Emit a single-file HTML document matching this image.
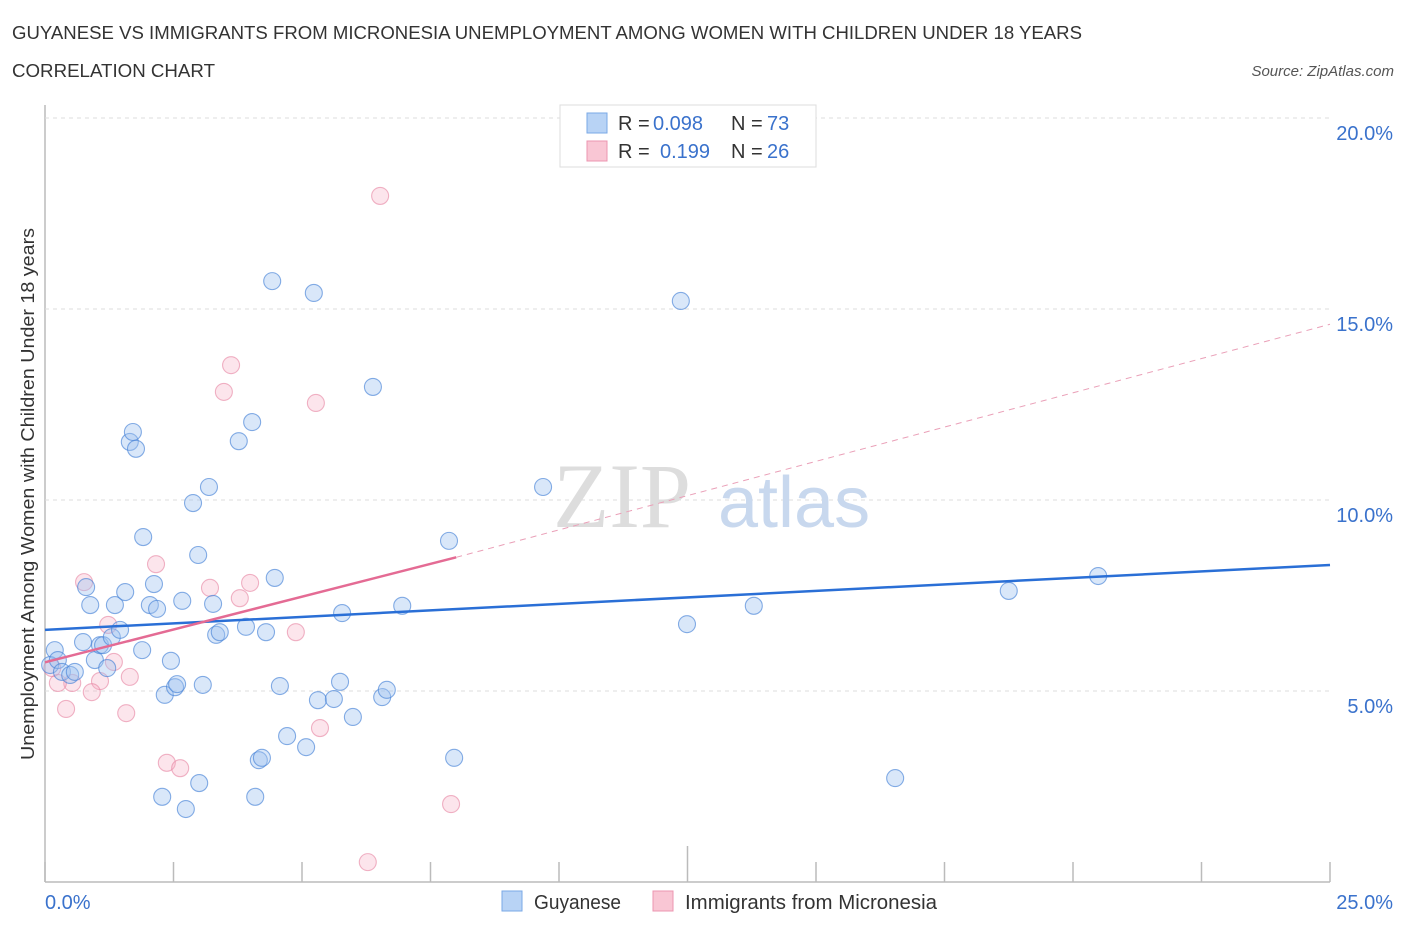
<!DOCTYPE html>
<html><head><meta charset="utf-8"><style>
body{margin:0;background:#fff;width:1406px;height:930px;overflow:hidden;font-family:"Liberation Sans",sans-serif}
</style></head><body>
<svg id="chart" width="1406" height="930" xmlns="http://www.w3.org/2000/svg" font-family="Liberation Sans, sans-serif">
<text x="12" y="39" font-size="18" fill="#333" textLength="1070" lengthAdjust="spacingAndGlyphs">GUYANESE VS IMMIGRANTS FROM MICRONESIA UNEMPLOYMENT AMONG WOMEN WITH CHILDREN UNDER 18 YEARS</text>
<text x="12" y="77" font-size="18" fill="#333" textLength="203" lengthAdjust="spacingAndGlyphs">CORRELATION CHART</text>
<text x="1394" y="76" font-size="15" fill="#555" font-style="italic" text-anchor="end">Source: ZipAtlas.com</text>
<text transform="translate(34,494) rotate(-90)" font-size="18" fill="#333" text-anchor="middle" textLength="532" lengthAdjust="spacingAndGlyphs">Unemployment Among Women with Children Under 18 years</text>
<g id="grid"></g>
<text x="553" y="527" font-size="92" fill="#ddd" font-family="Liberation Serif, serif">ZIP</text>
<text x="718" y="527" font-size="72" fill="#c8d8ee">atlas</text>
<g id="marks"></g>
<g id="lines"></g>
<g>
<rect x="560" y="105" width="256" height="62" fill="#fff" stroke="#ddd"/>
<rect x="587" y="113" width="20" height="20" fill="#b8d3f5" stroke="#7aa8e6"/>
<rect x="587" y="141" width="20" height="20" fill="#f9c6d4" stroke="#ec95b0"/>
<text y="130" font-size="20" fill="#333"><tspan x="618">R =</tspan><tspan x="653" fill="#3a72cc">0.098</tspan><tspan x="731">N =</tspan><tspan x="767" fill="#3a72cc">73</tspan></text>
<text y="158" font-size="20" fill="#333"><tspan x="618">R =</tspan><tspan x="660" fill="#3a72cc">0.199</tspan><tspan x="731">N =</tspan><tspan x="767" fill="#3a72cc">26</tspan></text>
</g>
<g>
<rect x="502" y="891" width="20" height="20" fill="#b8d3f5" stroke="#7aa8e6"/>
<text x="534" y="909" font-size="20" fill="#333" textLength="87" lengthAdjust="spacingAndGlyphs">Guyanese</text>
<rect x="653" y="891" width="20" height="20" fill="#f9c6d4" stroke="#ec95b0"/>
<text x="685" y="909" font-size="20" fill="#333" textLength="252" lengthAdjust="spacingAndGlyphs">Immigrants from Micronesia</text>
</g>
</svg>
<script>
const xTicks=[0,2.5,5,7.5,10,12.5,15,17.5,20,22.5,25];
const yTicks=[5,10,15,20];
const yTickLabels=["5.0%","10.0%","15.0%","20.0%"];
const xTickLabels=["0.0%","25.0%"];
const guyX=[.19,.10,.25,.33,.49,.58,.74,.80,.88,.97,1.07,1.13,1.21,1.30,1.36,1.46,1.56,1.65,1.71,1.77,1.91,1.89,2.04,2.12,2.18,2.33,2.28,2.45,2.53,2.57,2.67,2.74,2.88,2.98,3.00,3.07,3.19,3.27,3.33,3.40,3.77,3.91,4.03,4.09,4.16,4.22,4.30,4.42,4.47,4.57,4.71,5.08,5.23,5.31,5.62,5.74,5.78,5.99,6.38,6.56,6.65,6.95,7.86,7.96,9.69,12.37,12.49,13.79,16.54,18.75,20.49];
const guyY=[6.07,5.68,5.81,5.50,5.42,5.50,6.28,7.72,7.25,5.81,6.20,6.20,5.60,6.41,7.25,6.60,7.59,11.52,11.78,11.34,9.03,6.07,7.25,7.80,7.15,4.90,2.23,5.79,5.10,5.18,7.36,1.91,9.92,8.56,2.59,5.16,10.34,7.28,6.47,6.54,11.54,6.68,12.04,2.23,3.19,3.25,6.54,15.73,7.96,5.13,3.82,3.53,15.42,4.76,4.79,5.24,7.04,4.32,12.96,4.84,5.03,7.23,8.93,3.25,10.34,15.21,6.75,7.23,2.72,7.62,8.01];
const micX=[6.52,3.62,3.48,5.27,.76,2.16,3.21,3.99,3.79,4.88,1.23,1.34,1.65,1.07,.53,.25,.91,.41,1.58,5.35,2.37,2.63,7.90,6.28,.14];
const micY=[17.96,13.53,12.83,12.54,7.85,8.32,7.70,7.83,7.43,6.54,6.73,5.76,5.37,5.26,5.21,5.21,4.97,4.53,4.42,4.03,3.12,2.98,2.04,0.52,5.60];
const guyTrend=[6.6,8.3];
const micTrend=[5.75,8.5,14.6];
const micTrendX=[0,8,25];
const X=v=>45+v*51.4, Y=v=>882-v*38.2;
const NS="http://www.w3.org/2000/svg";
function mk(t,a,p){const e=document.createElementNS(NS,t);for(const k in a)e.setAttribute(k,a[k]);p.appendChild(e);return e;}
const grid=document.getElementById('grid');
const ax=mk('line',{x1:45,y1:105,x2:45,y2:882,stroke:'#bbb','stroke-width':1.5},grid);


const bx=mk('line',{x1:45,y1:882,x2:1330,y2:882,stroke:'#bbb','stroke-width':1.5},grid);


yTicks.forEach((v,i)=>{
 const g=mk('line',{x1:45,y1:Y(v),x2:1330,y2:Y(v),stroke:'#ddd','stroke-dasharray':'4,4'},grid);
 
 
 const t=mk('text',{x:1393,y:Y(v)+22,'font-size':20,fill:'#3a72cc','text-anchor':'end'},grid);
 t.textContent=yTickLabels[i];
 
 
});
xTicks.forEach((v,i)=>{
 const tk=mk('line',{x1:X(v),y1:(i==5?846:862),x2:X(v),y2:882,stroke:'#bbb','stroke-width':1.5},grid);
 
 
});
[[0,'start',45],[25,'end',1393]].forEach((a,i)=>{
 const t=mk('text',{x:a[2],y:909,'font-size':20,fill:'#3a72cc','text-anchor':a[1]},grid);
 t.textContent=xTickLabels[i];
 
 
});
const marks=document.getElementById('marks');
micX.forEach((v,i)=>{
 const c=mk('circle',{cx:X(v),cy:Y(micY[i]),r:8.5,fill:'rgba(244,170,192,0.3)',stroke:'rgba(230,130,160,0.6)','stroke-width':1.1},marks);
 
 
});
guyX.forEach((v,i)=>{
 const c=mk('circle',{cx:X(v),cy:Y(guyY[i]),r:8.5,fill:'rgba(160,196,240,0.4)',stroke:'rgba(70,130,215,0.65)','stroke-width':1.1},marks);
 
 
});
const lines=document.getElementById('lines');
const bl=mk('line',{x1:X(0),y1:Y(guyTrend[0]),x2:X(25),y2:Y(guyTrend[1]),stroke:'#2a6fd6','stroke-width':2.5},lines);


const pl=mk('line',{x1:X(micTrendX[0]),y1:Y(micTrend[0]),x2:X(micTrendX[1]),y2:Y(micTrend[1]),stroke:'#e46b94','stroke-width':2.5},lines);


const pd=mk('line',{x1:X(micTrendX[1]),y1:Y(micTrend[1]),x2:X(micTrendX[2]),y2:Y(micTrend[2]),stroke:'#eaa0b8','stroke-width':1,'stroke-dasharray':'6,5'},lines);


</script>
</body></html>
